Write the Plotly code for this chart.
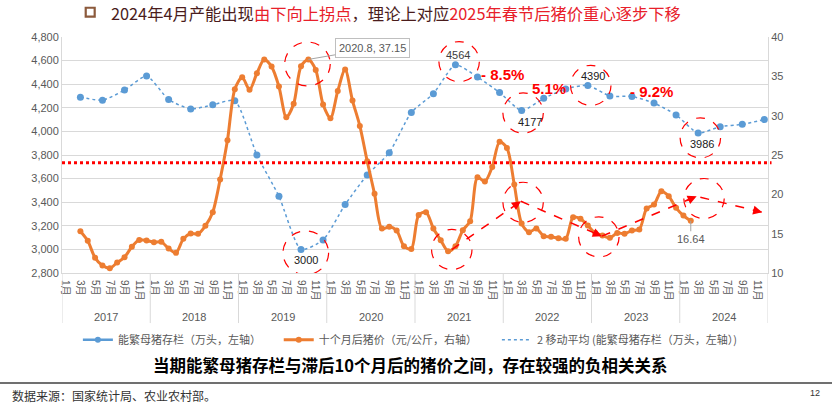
import plotly.graph_objects as go

# ---------------- data ----------------
years = ["2017", "2018", "2019", "2020", "2021", "2022", "2023", "2024"]
months = [f"{y}-{m:02d}" for y in years for m in range(1, 13)]
tick_months = [f"{y}-{m:02d}" for y in years for m in range(1, 13, 2)]
tick_text = [f"{m}月" for y in years for m in range(1, 13, 2)]

# quarterly sow inventory (万头, left axis)
sow_dates = [f"{y}-{m:02d}" for y in years for m in (3, 6, 9, 12)]
sow_values = [4290, 4265, 4350, 4470,
              4270, 4190, 4225, 4260,
              3800, 3450, 3000, 3080,
              3380, 3630, 3820, 4160,
              4320, 4564, 4460, 4330,
              4177, 4280, 4360, 4390,
              4300, 4296, 4240, 4140,
              3986, 4040, 4060, 4100]

# hog price 10 months later (元/公斤, right axis), monthly 2017-03 .. 2024-02
price_dates = months[2:86]
price_values = [15.31, 14.09, 11.93, 10.95, 10.61, 11.33, 12.01, 13.33, 14.21, 14.13,
                13.91, 13.96, 13.11, 12.56, 14.34, 15.02, 14.98, 16.00, 17.73, 21.88,
                26.88, 33.36, 34.88, 33.28, 35.39, 37.13, 36.24, 33.70, 29.80, 31.50,
                36.28, 37.15, 35.82, 31.41, 29.67, 33.15, 35.86, 31.92, 28.70, 24.20,
                20.06, 15.65, 15.87, 15.40, 13.40, 13.05, 17.38, 17.73, 15.65, 14.17,
                12.77, 13.40, 15.44, 16.58, 22.17, 21.63, 23.49, 26.67, 25.90, 21.25,
                16.29, 15.18, 15.65, 14.68, 14.60, 14.42, 14.34, 17.09, 16.89, 16.04,
                15.10, 14.76, 14.47, 15.10, 14.98, 15.40, 15.53, 18.20, 18.70, 20.40,
                19.76, 18.28, 17.30, 16.64]

name_sow = "能繁母猪存栏（万头，左轴）"
name_price = "十个月后猪价（元/公斤，右轴）"
name_ma = "2 移动平均 (能繁母猪存栏（万头，左轴）)"

BLUE = "#5B9BD5"
ORANGE = "#ED7D31"
RED = "#FF0000"
GRAY = "#595959"
FONT = "Liberation Sans, Arial, Noto Sans CJK SC, sans-serif"
CJK = "Noto Sans CJK SC, sans-serif"
NARROW = "Liberation Sans Narrow, Arial Narrow, sans-serif"

fig = go.Figure()

# price line (right axis)
fig.add_trace(go.Scatter(
    x=price_dates, y=price_values, yaxis="y2", name=name_price,
    mode="lines+markers", line=dict(color=ORANGE, width=3, shape="spline", smoothing=0.8),
    marker=dict(color=ORANGE, size=6), legend="legend2"))

# sow inventory: dotted smoothed line + markers
fig.add_trace(go.Scatter(
    x=sow_dates, y=sow_values, name=name_ma, mode="lines",
    line=dict(color=BLUE, width=1.5, dash="dot", shape="spline", smoothing=0.6),
    legend="legend3"))
fig.add_trace(go.Scatter(
    x=sow_dates, y=sow_values, name=name_sow, mode="markers",
    marker=dict(color=BLUE, size=7), showlegend=False))
# legend entry for sow inventory
fig.add_trace(go.Scatter(
    x=[None], y=[None], name=name_sow, mode="lines+markers",
    line=dict(color=BLUE, width=2.5), marker=dict(color=BLUE, size=6), legend="legend"))

shapes = []
annotations = []

# red dotted horizontal reference line
shapes.append(dict(type="line", xref="paper", yref="y2", x0=0, x1=1.005, y0=24, y1=24,
                   line=dict(color=RED, width=3, dash="dot")))

# dashed circles (x index, y left-axis value, rx months, ry units)
circles = [(32.88, 4571, 3.1, 186), (53.5, 4591, 2.75, 170), (62.2, 4156, 2.75, 170),
           (71.4, 4390, 2.75, 170), (86.3, 3945, 2.75, 170), (32.65, 2971, 3.1, 186),
           (52.5, 2999, 2.75, 170), (62.2, 3399, 2.75, 170), (72.5, 3106, 2.75, 170),
           (86.8, 3431, 2.75, 170)]
for cx, cy, rx, ry in circles:
    shapes.append(dict(type="circle", xref="x", yref="y", x0=cx - rx, x1=cx + rx,
                       y0=cy - ry, y1=cy + ry, line=dict(color=RED, width=1.2, dash="dash")))

# dashed arrows
arrows = [((52.5, 2999), (61.9, 3408)), ((61.9, 3408), (72.9, 3112)),
          ((72.9, 3112), (85.8, 3450)), ((86.3, 3442), (94.7, 3315))]
for (x0, y0), (x1, y1) in arrows:
    shapes.append(dict(type="line", xref="x", yref="y", x0=x0, y0=y0, x1=x1, y1=y1,
                       line=dict(color=RED, width=1.5, dash="dash")))
    annotations.append(dict(x=x1, y=y1, xref="x", yref="y",
                            ax=x1 - (x1 - x0) * 0.12, ay=y1 - (y1 - y0) * 0.12,
                            axref="x", ayref="y", showarrow=True, arrowhead=2,
                            arrowsize=1.2, arrowwidth=1.5, arrowcolor=RED, text=""))

# year separators and labels below axis
for i in range(len(years) + 1):
    shapes.append(dict(type="line", xref="x", yref="paper", x0=i * 12 - 0.5, x1=i * 12 - 0.5,
                       y0=0, y1=-0.212, line=dict(color="#d9d9d9", width=1)))
for i, y in enumerate(years):
    annotations.append(dict(x=i * 12 + 5.5, y=-0.186, xref="x", yref="paper", text=y,
                            showarrow=False, font=dict(size=11, color=GRAY, family=FONT),
                            yanchor="middle"))

# data labels
annotations += [
    dict(x="2019-10", y=37.15, xref="x", yref="y2", text="2020.8, 37.15", showarrow=True,
         arrowhead=0, arrowwidth=1, arrowcolor="#a6a6a6", ax=64, ay=-11,
         bordercolor="#bfbfbf", borderwidth=1, borderpad=3, bgcolor="white",
         font=dict(size=11, color=GRAY, family=FONT)),
    dict(x="2024-02", y=16.64, xref="x", yref="y2", text="16.64", showarrow=True,
         arrowhead=0, arrowwidth=1, arrowcolor="#a6a6a6", ax=0, ay=18,
         font=dict(size=11, color=GRAY, family=FONT)),
    dict(x="2021-06", y=4564, text="4564", showarrow=False, xshift=3, yshift=10,
         font=dict(size=11, color="#404040", family=FONT)),
    dict(x="2022-03", y=4177, text="4177", showarrow=False, xshift=8, yshift=-11,
         font=dict(size=11, color="#202020", family=FONT)),
    dict(x="2022-12", y=4390, text="4390", showarrow=False, xshift=5, yshift=9,
         font=dict(size=11, color="#202020", family=FONT)),
    dict(x="2024-03", y=3986, text="3986", showarrow=False, xshift=4, yshift=-11,
         font=dict(size=11, color="#202020", family=FONT)),
    dict(x="2019-09", y=3000, text="3000", showarrow=False, xshift=5, yshift=-11,
         font=dict(size=11, color="#202020", family=FONT)),
    dict(x=59.4, y=4481, xref="x", yref="y", text="<b>- 8.5%</b>", showarrow=False,
         font=dict(size=15, color=RED, family=NARROW)),
    dict(x=65.7, y=4360, xref="x", yref="y", text="<b>5.1%</b>", showarrow=False,
         font=dict(size=15, color=RED, family=NARROW)),
    dict(x=79.7, y=4339, xref="x", yref="y", text="<b>- 9.2%</b>", showarrow=False,
         font=dict(size=15, color=RED, family=NARROW)),
]

# title
TITLE_DARK = "#4a1c1c"
TITLE_RED = "#e8202a"
title_html = (f"<span style='color:{TITLE_DARK}'>2024年4月产能出现</span>"
              f"<span style='color:{TITLE_RED}'>由下向上拐点</span>"
              f"<span style='color:{TITLE_DARK}'>，理论上对应</span>"
              f"<span style='color:{TITLE_RED}'>2025年春节后猪价重心逐步下移</span>")
annotations.append(dict(x=0.0666, y=1.103, xref="paper", yref="paper", xanchor="left",
                         yanchor="middle", text=title_html, showarrow=False,
                         font=dict(size=16.3, family=CJK, color=TITLE_DARK)))
shapes.append(dict(type="rect", xref="paper", yref="paper", x0=0.0336, x1=0.0463,
                   y0=1.086, y1=1.124, line=dict(color="#8c5a3c", width=2.2)))

# bottom conclusion, rule, source
annotations.append(dict(x=0.4925, y=-0.39, xref="paper", yref="paper",
                        xanchor="center", yanchor="middle",
                        text="<b>当期能繁母猪存栏与滞后10个月后的猪价之间，存在较强的负相关关系</b>",
                        showarrow=False, font=dict(size=16.5, color="#000000", family=CJK)))
shapes.append(dict(type="line", xref="paper", yref="paper", x0=-0.09, x1=1.095,
                   y0=-0.466, y1=-0.466, line=dict(color="#404040", width=1.5)))
annotations.append(dict(x=-0.0737, y=-0.518, xref="paper", yref="paper",
                        xanchor="left", yanchor="middle",
                        text="数据来源：国家统计局、农业农村部。", showarrow=False,
                        font=dict(size=12, color="#333333", family=CJK)))
annotations.append(dict(x=1.066, y=-0.51, xref="paper", yref="paper",
                        xanchor="center", yanchor="middle",
                        text="12", showarrow=False,
                        font=dict(size=9, color="#333333", family=FONT)))

legend_common = dict(orientation="h", yanchor="middle", y=-0.283, xanchor="left",
                     font=dict(size=11, color=GRAY, family=CJK), bgcolor="rgba(0,0,0,0)",
                     itemwidth=30, tracegroupgap=0)

fig.update_layout(
    width=832, height=404,
    margin=dict(l=62, r=64, t=37, b=131, autoexpand=False),
    paper_bgcolor="white", plot_bgcolor="white",
    font=dict(family=FONT, size=11, color=GRAY),
    xaxis=dict(type="category", categoryorder="array", categoryarray=months,
               range=[-0.5, 95.5], tickmode="array", tickvals=tick_months, ticktext=tick_text,
               tickangle=90, tickfont=dict(size=10, color=GRAY, family=FONT),
               showgrid=False, showline=True, linecolor="#d9d9d9", ticks="", zeroline=False,
               ticklabelstandoff=4, automargin=False),
    yaxis=dict(range=[2800, 4800], dtick=200, tickformat=",", showgrid=True,
               gridcolor="#d9d9d9", gridwidth=1, showline=True, linecolor="#d9d9d9",
               zeroline=False, tickfont=dict(size=11, color=GRAY), ticks="", automargin=False),
    yaxis2=dict(range=[10, 40], dtick=5, overlaying="y", side="right", showgrid=False,
                showline=True, linecolor="#d9d9d9", zeroline=False,
                tickfont=dict(size=11, color=GRAY), ticks="", automargin=False),
    legend=dict(legend_common, x=0.0225),
    legend2=dict(legend_common, x=0.307),
    legend3=dict(legend_common, x=0.616),
    shapes=shapes, annotations=annotations, showlegend=True,
)

fig.write_html("out.html", config={"displayModeBar": False},
               post_script="document.body.style.margin='0';document.body.style.overflow='hidden';")
